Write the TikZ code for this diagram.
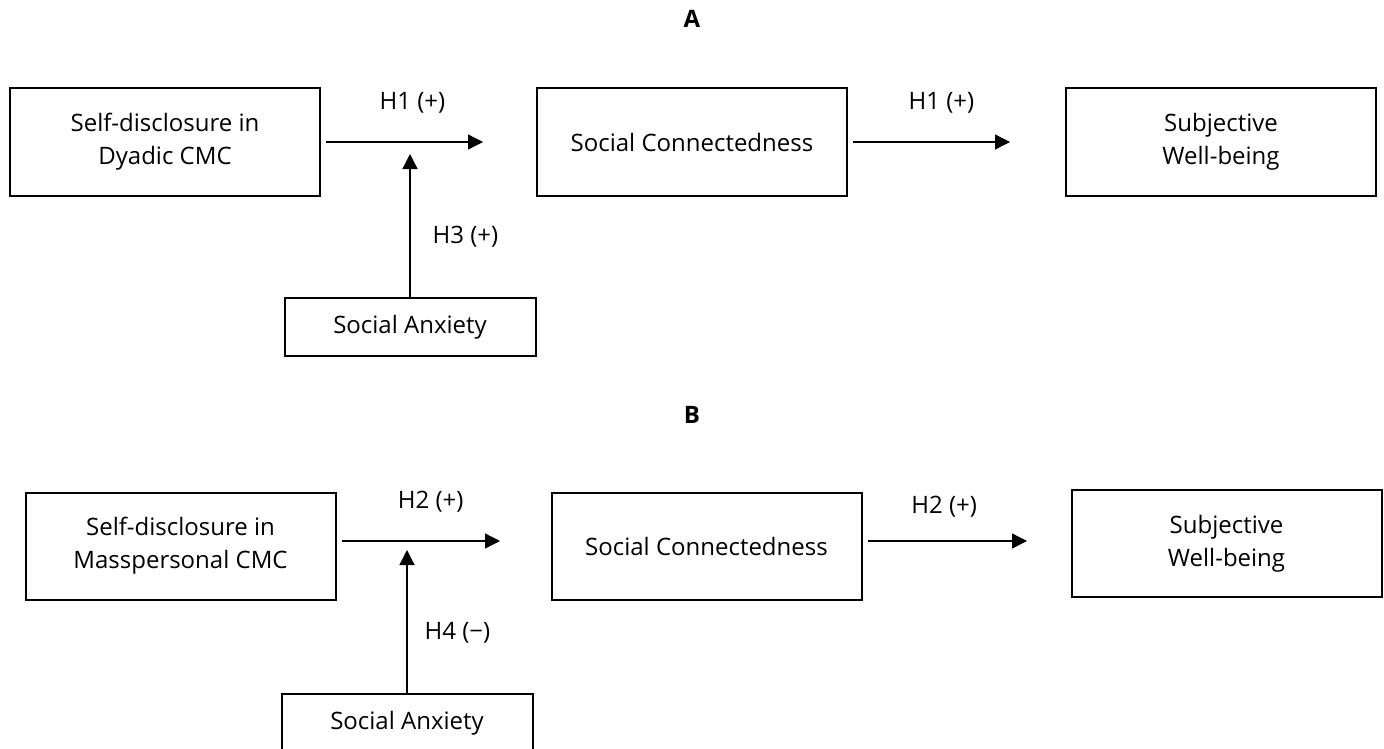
\documentclass[tikz,border=0pt]{standalone}
\usepackage{fontspec}
\setmainfont{Open Sans}
\usetikzlibrary{arrows.meta,positioning}

\begin{document}
\begin{tikzpicture}[x=1pt, y=-1pt,
    box/.style={draw, line width=2pt, minimum width=310pt, minimum height=107pt, align=center, font=\fontsize{24}{33}\selectfont},
    smallbox/.style={draw, line width=2pt, minimum width=251pt, minimum height=58pt, font=\fontsize{24}{33}\selectfont},
    lbl/.style={font=\fontsize{24}{33}\selectfont, inner sep=0pt},
    arr/.style={-{Triangle[length=15pt, width=15pt]}, line width=1.3pt}]
    \useasboundingbox (0,0) rectangle (1384,749);

    % panel A
    \node[lbl, font=\fontsize{24}{33}\selectfont\bfseries] (titleA) at (692,19) {A};
    \node[box] (dyad) at (165,142) {Self-disclosure in\\Dyadic CMC};
    \node[box, right=215pt of dyad] (connA) {Social Connectedness};
    \node[box, right=217pt of connA] (wellA) {Subjective\\Well-being};
    \node[smallbox] (anxA) at (410,327) {Social Anxiety};
    \coordinate (tipA1) at (483,142);
    \coordinate (tipA2) at (1010,142);
    \coordinate (modA) at (410,154);
    \draw[arr] ([xshift=5pt]dyad.east) -- node[lbl, midway, yshift=39pt, xshift=8pt] {H1 (+)} (tipA1);
    \draw[arr] ([xshift=5pt]connA.east) -- node[lbl, midway, yshift=39pt, xshift=10pt] {H1 (+)} (tipA2);
    \draw[arr] (anxA.north) -- node[lbl, midway, anchor=west, xshift=22pt, yshift=-11pt] {H3 (+)} (modA);

    % panel B
    \node[lbl, font=\fontsize{24}{33}\selectfont\bfseries] (titleB) at (692,415) {B};
    \node[box] (massp) at (180.5,546) {Self-disclosure in\\Masspersonal CMC};
    \node[box, right=214pt of massp] (connB) {Social Connectedness};
    \node[box, right=208pt of connB, yshift=2.5pt] (wellB) {Subjective\\Well-being};
    \node[smallbox] (anxB) at (407,723) {Social Anxiety};
    \coordinate (tipB1) at (500,541);
    \coordinate (tipB2) at (1027,541);
    \coordinate (modB) at (407,550);
    \draw[arr] ([shift={(5pt,5pt)}]massp.east) -- node[lbl, midway, yshift=39pt, xshift=10pt] {H2 (+)} (tipB1);
    \draw[arr] ([shift={(5pt,5pt)}]connB.east) -- node[lbl, midway, yshift=34pt, xshift=-3pt] {H2 (+)} (tipB2);
    \draw[arr] (anxB.north) -- node[lbl, midway, anchor=west, xshift=17pt, yshift=-11pt] {H4 (−)} (modB);
\end{tikzpicture}
\end{document}
